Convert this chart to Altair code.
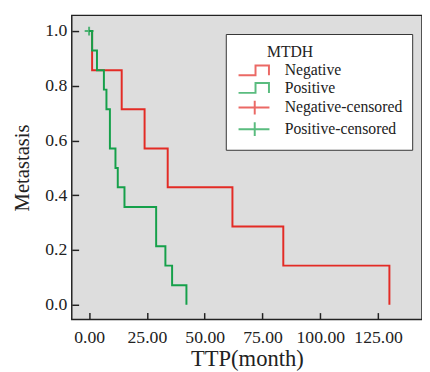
import altair as alt
import pandas as pd

# ---- data ----
neg_time = [0, 1.3, 14.1, 24.0, 34.0, 62.0, 84.0, 129.9]
neg_surv = [1.0, 0.857, 0.714, 0.571, 0.429, 0.286, 0.143, 0.0]
pos_time = [0, 1.3, 3.4, 6.4, 7.5, 9.0, 11.4, 12.4, 15.3, 29.0, 33.0, 35.9, 42.1]
pos_surv = [1.0, 0.929, 0.857, 0.786, 0.714, 0.571, 0.5, 0.429, 0.357, 0.214, 0.143, 0.071, 0.0]
censor_time = [0]
censor_surv = [1.0]
censor_group = ["Positive-censored"]

groups = ["Negative", "Positive"]
legend_items = ["Negative", "Positive", "Negative-censored", "Positive-censored"]
x_ticks = [0, 25, 50, 75, 100, 125]
y_ticks = [0.0, 0.2, 0.4, 0.6, 0.8, 1.0]

RED = "#e32b25"
GREEN = "#15a04a"
STEP = "M-1,1L2.46,1L2.46,-1L5.2,-1L5.2,1"
PLUS_L = "M-1,0L5.3,0M2.3,-1.4L2.3,1.4"
PLUS = "M-1,0L1,0M0,-1L0,1"

lines = pd.DataFrame(
    [{"t": t, "s": s, "series": "Negative", "o": i} for i, (t, s) in enumerate(zip(neg_time, neg_surv))]
    + [{"t": t, "s": s, "series": "Positive", "o": i} for i, (t, s) in enumerate(zip(pos_time, pos_surv))]
)
cens = pd.DataFrame({"t": censor_time, "s": censor_surv, "series": censor_group})
dummy = pd.DataFrame({"t": [-100] * 4, "s": [0.5] * 4, "series": legend_items})

xs = alt.Scale(domain=[-7.5, 144])
ys = alt.Scale(domain=[-0.0538, 1.0573])
xaxis = alt.Axis(values=x_ticks, format=".2f", title="TTP(month)", offset=-7, tickSize=7,
                 domain=False, grid=False, labelPadding=9, titlePadding=2, labelFontSize=18,
                 titleFontSize=23, labelFlush=False)
yaxis = alt.Axis(values=y_ticks, format=".1f", title="Metastasis", offset=-7, tickSize=7,
                 domain=False, grid=False, labelPadding=5, titlePadding=13, labelFontSize=18,
                 titleFontSize=21)

line_layer = alt.Chart(lines).mark_line(interpolate="step-after", strokeWidth=2).encode(
    x=alt.X("t:Q", scale=xs, axis=xaxis),
    y=alt.Y("s:Q", scale=ys, axis=yaxis),
    color=alt.Color("series:N", scale=alt.Scale(domain=groups, range=[RED, GREEN]), legend=None),
    order="o:Q",
)

censor_layer = alt.Chart(cens).mark_point(shape=PLUS, size=81, strokeWidth=2, color=GREEN, filled=False).encode(
    x=alt.X("t:Q", scale=xs),
    y=alt.Y("s:Q", scale=ys),
)

leg = alt.Legend(title="\u200b" + "\u00a0" * 8 + "MTDH", orient="none", legendX=157, legendY=19)
dummy_layer = alt.Chart(dummy).mark_point(clip=True, filled=False, strokeWidth=2).encode(
    x=alt.X("t:Q", scale=xs),
    y=alt.Y("s:Q", scale=ys),
    color=alt.Color("series:N", scale=alt.Scale(domain=legend_items, range=[RED, GREEN, RED, GREEN]), legend=leg),
    shape=alt.Shape("series:N", scale=alt.Scale(domain=legend_items, range=[STEP, STEP, PLUS_L, PLUS_L]), legend=leg),
)

chart = (
    alt.layer(line_layer, censor_layer, dummy_layer)
    .resolve_scale(color="independent", shape="independent")
    .resolve_legend(color="independent", shape="independent")
    .properties(width=357, height=310, autosize=alt.AutoSizeParams(type="none"),
                padding={"left": 65, "top": 4, "right": 0, "bottom": 50})
    .configure(font="Liberation Serif")
    .configure_view(fill="#dddddd", stroke="#222222", strokeWidth=1.5)
    .configure_axis(labelColor="#222222", titleColor="#222222", tickColor="#222222", tickWidth=1.5,
                    titleFontWeight="normal")
    .configure_legend(fillColor="white", strokeColor="#333333", padding=10, titleFontSize=16,
                      labelFontSize=16, titleFontWeight="normal", titleColor="#222222",
                      labelColor="#222222", symbolSize=100, symbolStrokeWidth=2, labelOffset=34,
                      rowPadding=0, titlePadding=3, symbolFillColor="transparent")
)

chart.save("out.html", embed_options={"renderer": "svg", "actions": False})
